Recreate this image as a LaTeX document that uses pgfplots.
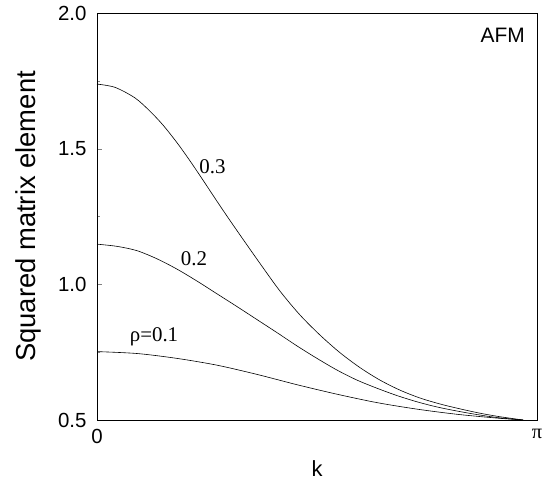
\documentclass[border=0pt]{standalone}
\usepackage{pgfplots}
\pgfplotsset{compat=1.18}
\usepackage{fontspec}
\setmainfont{Liberation Sans}
\newfontfamily\serif{Liberation Serif}

\begin{document}
\begin{tikzpicture}
\begin{axis}[
    scale only axis,
    width=440bp,
    height=407bp,
    xmin=0, xmax=3.14159,
    ymin=0.5, ymax=2.0,
    xtick={0,3.14159},
    xticklabels={0,{\serif π}},
    ytick={0.5,1.0,1.5,2.0},
    yticklabels={0.5,1.0,1.5,2.0},
    minor ytick={0.75,1.25,1.75},
    ytick pos=left,
    xtick pos=bottom,
    tick align=inside,
    major tick length=5bp,
    minor tick length=3bp,
    axis line style={line width=0.9bp},
    ticklabel style={font=\fontsize{20.5}{20.5}\selectfont},
    /pgf/number format/assume math mode=true,
    yticklabel style={xshift=-7bp},
    xticklabel style={yshift=-6bp},
    xlabel={k},
    ylabel={Squared matrix element},
    xlabel style={font=\fontsize{22}{22}\selectfont, at={(rel axis cs:0.5,-0.140)}, anchor=base},
    ylabel style={font=\fontsize{27.5}{27.5}\selectfont, at={(rel axis cs:-0.157,0.5)}, anchor=center},
    clip=false,
]
% rho = 0.3
\addplot[black, line width=0.6bp, smooth] coordinates {
    (0,1.738) (0.1285,1.726) (0.2713,1.687) (0.3784,1.638) (0.4712,1.587)
    (0.5712,1.522) (0.6640,1.455) (0.7568,1.384) (0.8568,1.306) (0.9353,1.246)
    (1.0210,1.182) (1.1638,1.077) (1.3066,0.975) (1.4494,0.887) (1.5922,0.813)
    (1.7350,0.748) (1.8778,0.693) (2.0206,0.647) (2.1634,0.610) (2.3062,0.581)
    (2.4490,0.559) (2.5918,0.541) (2.7346,0.525) (2.8774,0.512) (3.0416,0.500)
};
% rho = 0.2
\addplot[black, line width=0.6bp, smooth] coordinates {
    (0,1.148) (0.1428,1.140) (0.2856,1.124) (0.4284,1.094) (0.5712,1.056)
    (0.7140,1.012) (0.8568,0.965) (0.9996,0.918) (1.1424,0.870) (1.2852,0.822)
    (1.4280,0.773) (1.5708,0.727) (1.7136,0.684) (1.8564,0.647) (1.9992,0.617)
    (2.1420,0.590) (2.2848,0.567) (2.4276,0.548) (2.5704,0.533) (2.7132,0.520)
    (2.8560,0.509) (2.9988,0.502) (3.0416,0.500)
};
% rho = 0.1
\addplot[black, line width=0.6bp, smooth] coordinates {
    (0,0.752) (0.2856,0.745) (0.5712,0.727) (0.8568,0.702) (1.1424,0.668)
    (1.4280,0.630) (1.7136,0.595) (1.9992,0.564) (2.2848,0.540) (2.5704,0.521)
    (2.8560,0.507) (3.0416,0.500)
};
\node[font=\serif\fontsize{21}{21}\selectfont, anchor=base] at (axis cs:0.8247,1.4103) {0.3};
\node[font=\serif\fontsize{21}{21}\selectfont, anchor=base] at (axis cs:0.6926,1.0712) {0.2};
\node[font=\serif\fontsize{21}{21}\selectfont, anchor=base] at (axis cs:0.407,0.7886) {ρ=0.1};
\node[font=\fontsize{21}{21}\selectfont, anchor=north east, inner sep=0pt] at (rel axis cs:0.9727,0.963) {AFM};
\path (rel axis cs:-0.2205,-0.1548) rectangle (rel axis cs:1.0205,1.032);
\end{axis}
\end{tikzpicture}
\end{document}
